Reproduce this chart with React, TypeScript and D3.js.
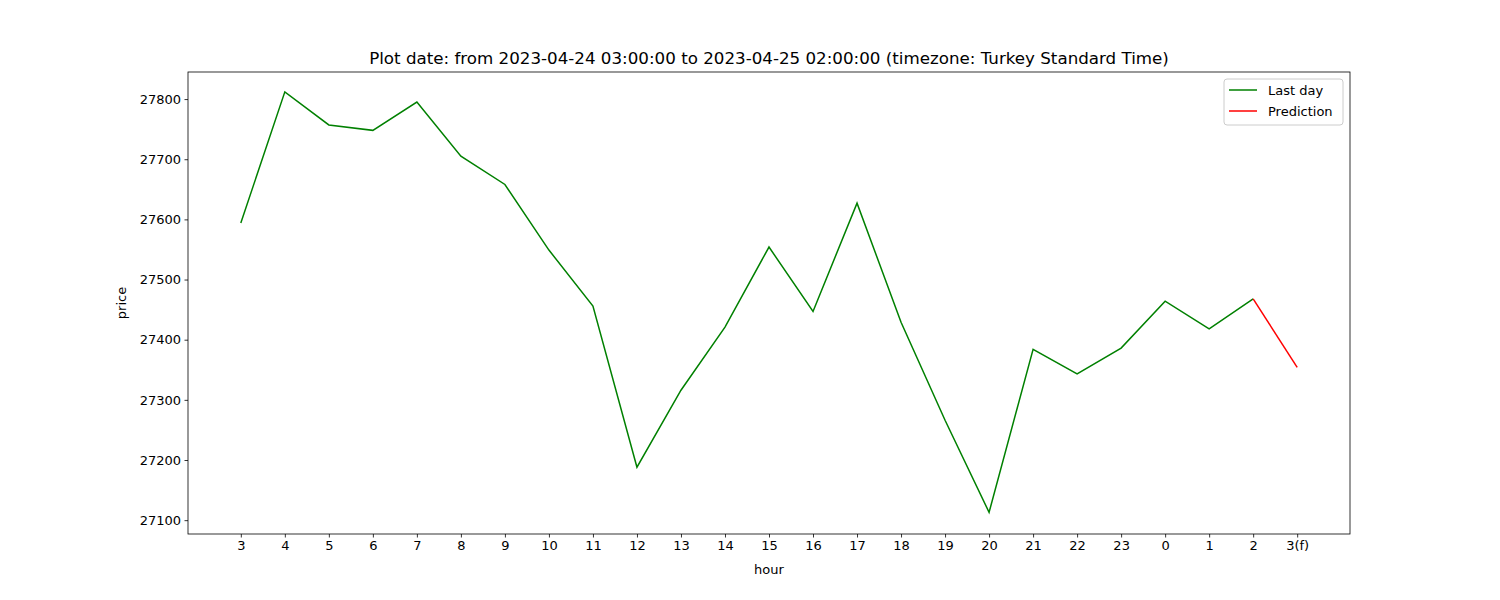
import * as d3 from 'd3';
import { useEffect, useRef } from 'react';

const hours = ['3','4','5','6','7','8','9','10','11','12','13','14','15','16','17','18','19','20','21','22','23','0','1','2','3(f)'];
const lastDay = [27594, 27812, 27757, 27748, 27795, 27705, 27658, 27549, 27456, 27188, 27316, 27421, 27554, 27447, 27627, 27429, 27266, 27113, 27384, 27343, 27386, 27464, 27418, 27468];
const prediction = [27468, 27354];
const yTicks = [27100, 27200, 27300, 27400, 27500, 27600, 27700, 27800];

export default function App() {
    const ref = useRef<any>();

    useEffect(() => {
        const svg = d3.select(ref.current);
        svg.selectAll('*').remove();
        const m = { left: 188, right: 1350, top: 72, bottom: 534 };
        const font = 'DejaVu Sans, sans-serif';

        const x = d3.scaleLinear().domain([-1.2, 25.2]).range([m.left, m.right]);
        const y = d3.scaleLinear().domain([27077, 27845]).range([m.bottom, m.top]);

        const xAxis = d3.axisBottom(x).tickValues(d3.range(hours.length)).tickFormat((i: any) => hours[i]).tickSize(3.5).tickPadding(3.5);
        const gx = svg.append('g').attr('transform', `translate(0,${m.bottom})`).call(xAxis as any);
        const yAxis = d3.axisLeft(y).tickValues(yTicks).tickFormat(d3.format('d')).tickSize(3.5).tickPadding(3.5);
        const gy = svg.append('g').attr('transform', `translate(${m.left},0)`).call(yAxis as any);
        [gx, gy].forEach(g => {
            g.select('.domain').remove();
            g.selectAll('text').attr('font-family', font).attr('font-size', 13).attr('fill', 'black');
            g.selectAll('line').attr('stroke', 'black').attr('stroke-width', 0.8);
        });

        svg.append('rect').attr('x', m.left).attr('y', m.top).attr('width', m.right - m.left).attr('height', m.bottom - m.top)
            .attr('fill', 'none').attr('stroke', 'black').attr('stroke-width', 0.8);

        const line = d3.line<[number, number]>().x(d => x(d[0])).y(d => y(d[1]));
        svg.append('path').attr('d', line(lastDay.map((v, i) => [i, v]))).attr('fill', 'none').attr('stroke', 'green').attr('stroke-width', 1.5);
        svg.append('path').attr('d', line(prediction.map((v, i) => [i + lastDay.length - 1, v]))).attr('fill', 'none').attr('stroke', 'red').attr('stroke-width', 1.5);

        svg.append('text').attr('x', (m.left + m.right) / 2).attr('y', 64).attr('text-anchor', 'middle')
            .attr('font-family', font).attr('font-size', 16.7)
            .text('Plot date: from 2023-04-24 03:00:00 to 2023-04-25 02:00:00 (timezone: Turkey Standard Time)');
        svg.append('text').attr('x', (m.left + m.right) / 2).attr('y', 574).attr('text-anchor', 'middle')
            .attr('font-family', font).attr('font-size', 13).text('hour');
        svg.append('text').attr('transform', `translate(126,${(m.top + m.bottom) / 2}) rotate(-90)`).attr('text-anchor', 'middle')
            .attr('font-family', font).attr('font-size', 13).text('price');

        const lg = svg.append('g').attr('transform', 'translate(1224,79)');
        lg.append('rect').attr('width', 119).attr('height', 46).attr('rx', 3).attr('fill', 'white').attr('stroke', '#cccccc');
        [['Last day', 'green'], ['Prediction', 'red']].forEach(([t, c], i) => {
            const yy = 11 + i * 21;
            lg.append('line').attr('x1', 5).attr('x2', 33).attr('y1', yy).attr('y2', yy).attr('stroke', c).attr('stroke-width', 1.5);
            lg.append('text').attr('x', 44).attr('y', yy + 4.5).attr('font-family', font).attr('font-size', 13).text(t);
        });
    }, []);

    return <svg ref={ref} width={1500} height={600} style={{ position: 'absolute', left: 0, top: 0, background: 'white' }} />;
}
